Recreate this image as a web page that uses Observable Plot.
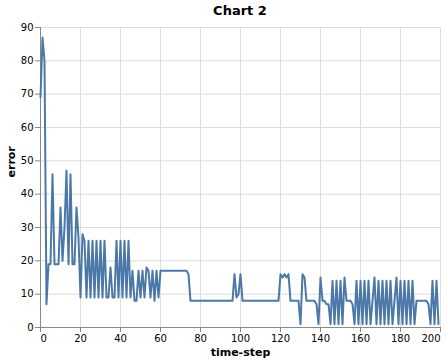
<!DOCTYPE html>
<html>
<head>
<meta charset="utf-8">
<script src="https://cdn.jsdelivr.net/npm/d3@7"></script>
<script src="https://cdn.jsdelivr.net/npm/@observablehq/plot@0.6"></script>
<style>
  html, body { margin: 0; padding: 0; background: #fff; }
  #title { width: 400px; margin-left: 40px; height: 22px; line-height: 22px; text-align: center;
           font-family: "DejaVu Sans", sans-serif; font-weight: bold; font-size: 13px; color: #000; }
  svg { display: block; }
</style>
</head>
<body>
<div id="title">Chart 2</div>
<div id="chart"></div>
<script>
const chartTitle = "Chart 2";
const xLabel = "time-step";
const yLabel = "error";
const xTicks = [0, 20, 40, 60, 80, 100, 120, 140, 160, 180, 200];
const yTicks = [0, 10, 20, 30, 40, 50, 60, 70, 80, 90];
// error value at each time-step (index = time-step)
const errorValues = [
  69, 87, 80, 7, 19, 19, 46, 19, 19, 19,
  36, 20, 30, 47, 19, 46, 19, 19, 36, 27,
  9, 28, 26, 9, 26, 9, 26, 9, 26, 9,
  26, 9, 26, 9, 9, 18, 9, 9, 26, 9,
  26, 9, 26, 9, 26, 9, 17, 8, 8, 17,
  9, 17, 9, 18, 17, 9, 17, 8, 17, 9,
  17, 17, 17, 17, 17, 17, 17, 17, 17, 17,
  17, 17, 17, 17, 16, 8, 8, 8, 8, 8,
  8, 8, 8, 8, 8, 8, 8, 8, 8, 8,
  8, 8, 8, 8, 8, 8, 8, 16, 9, 10,
  16, 8, 8, 8, 8, 8, 8, 8, 8, 8,
  8, 8, 8, 8, 8, 8, 8, 8, 8, 8,
  16, 15, 16, 15, 16, 8, 8, 8, 8, 8,
  1, 16, 15, 8, 8, 8, 8, 8, 7, 1,
  15, 8, 8, 7, 7, 1, 14, 1, 14, 1,
  14, 1, 15, 8, 8, 8, 7, 1, 14, 1,
  14, 1, 14, 1, 14, 1, 8, 15, 1, 14,
  1, 14, 1, 14, 1, 14, 1, 8, 15, 1,
  14, 1, 14, 1, 14, 1, 14, 1, 8, 8,
  8, 8, 8, 8, 7, 1, 14, 1, 14, 1
];

const data = errorValues.map((v, i) => ({step: i, error: v}));
const xFirst = xTicks[0];
const xLast = xTicks[xTicks.length - 1];

const chart = Plot.plot({
  width: 446,
  height: 342,
  marginLeft: 40,
  marginRight: 6,
  marginTop: 5,
  marginBottom: 37,
  style: { fontFamily: "DejaVu Sans, sans-serif", fontSize: "10px", color: "#000", background: "#fff" },
  x: { domain: [0, 200] },
  y: { domain: [0, 90] },
  marks: [
    Plot.gridX(xTicks, { stroke: "#ddd", strokeOpacity: 1 }),
    Plot.gridY(yTicks, { stroke: "#ddd", strokeOpacity: 1 }),
    Plot.axisX(xTicks, { tickSize: 5, tickPadding: 2, stroke: "#888", fill: "#000", label: null,
      tickFormat: d => (d === xFirst || d === xLast) ? "" : String(d) }),
    Plot.axisX([xFirst], { tickSize: 0, tickPadding: 7, fill: "#000", label: null, textAnchor: "start" }),
    Plot.axisX([xLast], { tickSize: 0, tickPadding: 7, fill: "#000", label: null, textAnchor: "end" }),
    Plot.axisY(yTicks, { tickSize: 5, tickPadding: 2, stroke: "#888", fill: "#000", label: null }),
    Plot.ruleY([0], { stroke: "#888" }),
    Plot.ruleX([0], { stroke: "#888" }),
    Plot.line(data, { x: "step", y: "error", stroke: "#4c78a8", strokeWidth: 2 }),
    Plot.text([xLabel], { frameAnchor: "bottom", dy: 28, fontWeight: "bold", fontSize: 11, fill: "#000" }),
    Plot.text([yLabel], { frameAnchor: "left", dx: -29, rotate: -90, fontWeight: "bold", fontSize: 11, fill: "#000" })
  ]
});
document.getElementById("chart").appendChild(chart);
</script>
</body>
</html>
